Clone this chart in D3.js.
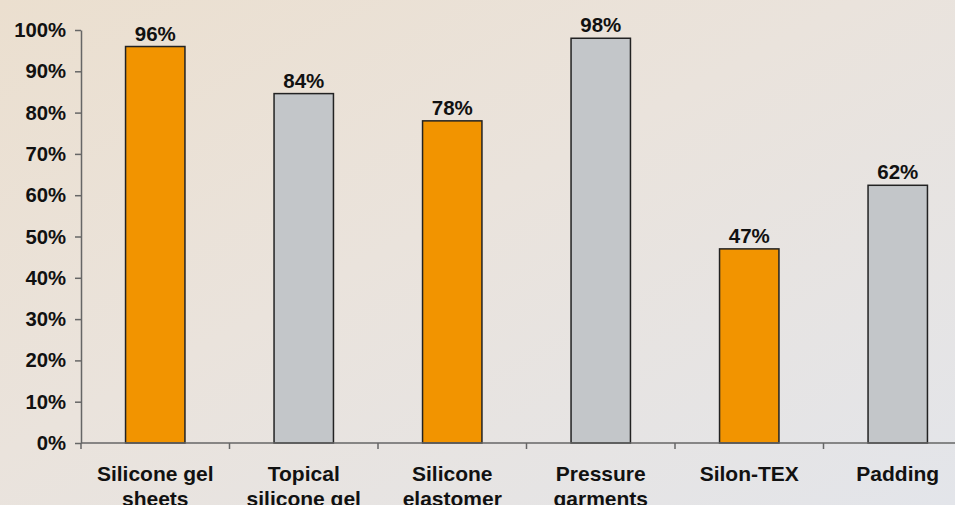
<!DOCTYPE html>
<html><head><meta charset="utf-8">
<script src="https://cdn.jsdelivr.net/npm/d3@7/dist/d3.min.js"></script>
<style>html,body{margin:0;padding:0;overflow:hidden}svg{display:block}</style>
</head><body>
<svg id="c" width="955" height="505"></svg>
<script>
const categories = [["Silicone gel","sheets"],["Topical","silicone gel"],["Silicone","elastomer"],["Pressure","garments"],["Silon-TEX"],["Padding"]];
const values = [96, 84.6, 78, 98, 47, 62.4];
const valueLabels = ["96%","84%","78%","98%","47%","62%"];
const barColors = ["#F29400","#C3C6C9","#F29400","#C3C6C9","#F29400","#C3C6C9"];
const yTicks = [0,10,20,30,40,50,60,70,80,90,100];

const svg = d3.select("#c");
const W = 955, H = 505;
const defs = svg.append("defs");
const g = defs.append("linearGradient").attr("id","bg").attr("x1","0").attr("y1","0").attr("x2","1").attr("y2","1");
g.append("stop").attr("offset","0").attr("stop-color","#EBDFCF");
g.append("stop").attr("offset","0.45").attr("stop-color","#EAE3DC");
g.append("stop").attr("offset","1").attr("stop-color","#E3E5EA");
svg.append("rect").attr("width",W).attr("height",H).attr("fill","url(#bg)");

const x0 = 81, x1 = 972, yTop = 30, yBot = 443;
const x = d3.scaleBand().domain(d3.range(categories.length)).range([x0,x1]).paddingInner(0.6).paddingOuter(0.3);
const y = d3.scaleLinear().domain([0,100]).range([yBot,yTop]);
const font = "'Liberation Sans', Arial, sans-serif";

// y axis
const yAxis = d3.axisLeft(y).tickValues(yTicks).tickFormat(d => d + "%").tickSizeInner(6).tickSizeOuter(0).tickPadding(9);
const ya = svg.append("g").attr("transform",`translate(${x0},0)`).call(yAxis);
ya.select(".domain").attr("stroke","#666").attr("stroke-width",1.5);
ya.selectAll(".tick line").attr("stroke","#666").attr("stroke-width",1.5);
ya.selectAll(".tick text").attr("font-family",font).attr("font-weight","bold").attr("font-size","20.3px").attr("fill","#111");

// bars
svg.append("g").selectAll("rect").data(values).join("rect")
  .attr("x",(d,i)=>x(i)).attr("width",x.bandwidth())
  .attr("y",d=>y(d)).attr("height",d=>yBot - y(d))
  .attr("fill",(d,i)=>barColors[i]).attr("stroke","#222").attr("stroke-width",1.5);

// x axis
const xs = d3.scaleLinear().domain([0,categories.length]).range([x0,x1]);
const xa = svg.append("g").attr("transform",`translate(0,${yBot})`);
xa.append("line").attr("x1",x0).attr("x2",W).attr("stroke","#666").attr("stroke-width",1.5);
xa.selectAll("line.t").data(d3.range(categories.length+1)).join("line").attr("class","t")
  .attr("x1",d=>xs(d)).attr("x2",d=>xs(d)).attr("y1",0).attr("y2",6).attr("stroke","#666").attr("stroke-width",1.5);

// category labels
const cl = svg.append("g").selectAll("text").data(categories).join("text")
  .attr("x",(d,i)=>x(i)+x.bandwidth()/2).attr("y",481)
  .attr("text-anchor","middle").attr("font-family",font).attr("font-weight","bold").attr("font-size","21px").attr("fill","#111");
cl.selectAll("tspan").data(d=>d).join("tspan")
  .attr("x",function(){return this.parentNode.getAttribute("x");})
  .attr("dy",(d,j)=> j===0?0:25).text(d=>d);

// value labels
svg.append("g").selectAll("text").data(values).join("text")
  .attr("x",(d,i)=>x(i)+x.bandwidth()/2).attr("y",d=>y(d)-6)
  .attr("text-anchor","middle").attr("font-family",font).attr("font-weight","bold").attr("font-size","20.5px").attr("fill","#111")
  .text((d,i)=>valueLabels[i]);
</script>
</body></html>
